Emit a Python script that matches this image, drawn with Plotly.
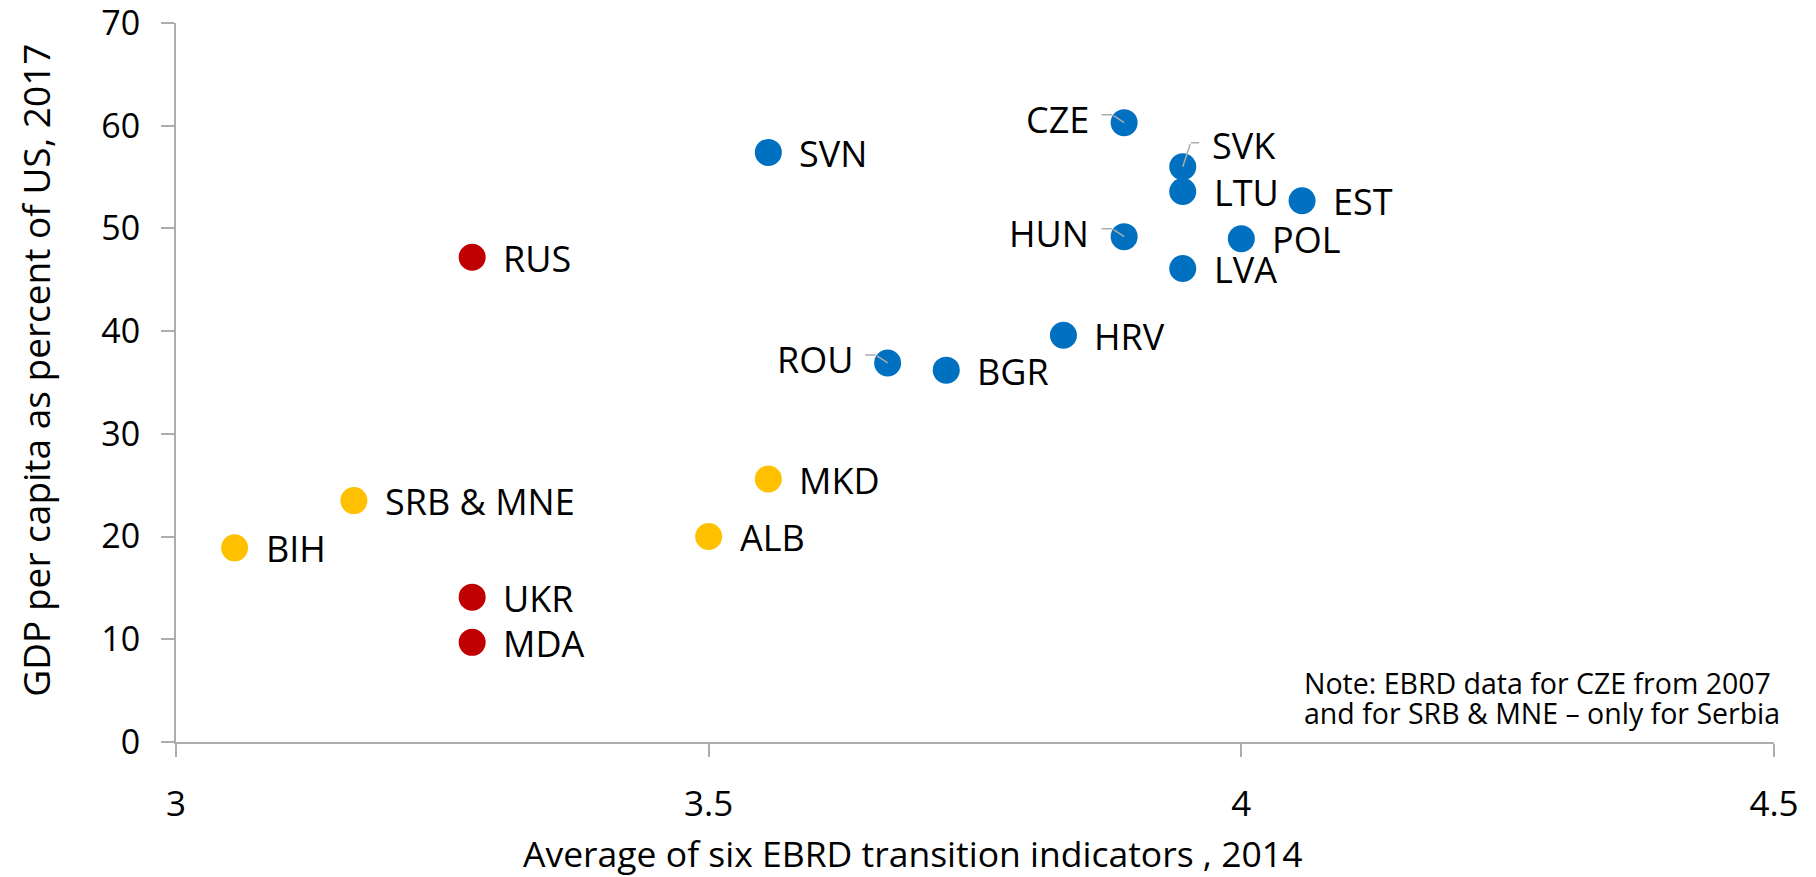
import plotly.graph_objects as go

# ---- data ----
countries = ["CZE", "SVK", "LTU", "EST", "HUN", "POL", "LVA", "HRV", "ROU", "BGR", "SVN",
             "RUS", "UKR", "MDA",
             "MKD", "ALB", "SRB & MNE", "BIH"]
ebrd_2014 = [3.89, 3.945, 3.945, 4.057, 3.89, 4.0, 3.945, 3.833, 3.668, 3.723, 3.556,
             3.278, 3.278, 3.278,
             3.556, 3.5, 3.167, 3.055]
gdp_pct_us = [60.3, 56.0, 53.6, 52.7, 49.2, 49.0, 46.1, 39.6, 36.9, 36.2, 57.4,
              47.2, 14.1, 9.7,
              25.6, 20.0, 23.5, 18.9]
groups = ["EU", "EU", "EU", "EU", "EU", "EU", "EU", "EU", "EU", "EU", "EU",
          "CIS", "CIS", "CIS",
          "WB", "WB", "WB", "WB"]
group_colors = {"EU": "#0070C0", "CIS": "#C00000", "WB": "#FFC000"}

x_ticks = [3, 3.5, 4, 4.5]
x_tick_labels = ["3", "3.5", "4", "4.5"]
y_ticks = [0, 10, 20, 30, 40, 50, 60, 70]
y_tick_labels = ["0", "10", "20", "30", "40", "50", "60", "70"]

# label placement: side of the point (right / left / above-right with leader)
left_labels = {"CZE", "HUN", "ROU"}
above_labels = {"SVK"}

FONT = "Open Sans"
GRAY = "#ADADAD"
LABEL_SIZE = 36

fig = go.Figure()
for g in ["EU", "CIS", "WB"]:
    xs = [x for x, gg in zip(ebrd_2014, groups) if gg == g]
    ys = [y for y, gg in zip(gdp_pct_us, groups) if gg == g]
    fig.add_trace(go.Scatter(x=xs, y=ys, mode="markers",
                             marker=dict(size=27, color=group_colors[g], line=dict(width=0)),
                             showlegend=False, hoverinfo="skip"))

ann = []
for c, x, y in zip(countries, ebrd_2014, gdp_pct_us):
    if c in left_labels:
        ann.append(dict(x=x, y=y, xref="x", yref="y", text=c, showarrow=False,
                        xanchor="right", yanchor="middle", xshift=-33, yshift=3,
                        font=dict(family=FONT, size=LABEL_SIZE, color="black")))
        # leader line: short horizontal then diagonal to centre
        ann.append(dict(x=x, y=y, xref="x", yref="y", text="", showarrow=True,
                        arrowhead=0, arrowwidth=1.5, arrowcolor=GRAY,
                        ax=-12, ay=0, xshift=-12, yshift=8))
        ann.append(dict(x=x, y=y, xref="x", yref="y", text="", showarrow=True,
                        arrowhead=0, arrowwidth=1.5, arrowcolor=GRAY,
                        ax=-12, ay=-8))
    elif c in above_labels:
        ann.append(dict(x=x, y=y, xref="x", yref="y", text=c, showarrow=False,
                        xanchor="left", yanchor="middle", xshift=27, yshift=21,
                        font=dict(family=FONT, size=LABEL_SIZE, color="black")))
        ann.append(dict(x=x, y=y, xref="x", yref="y", text="", showarrow=True,
                        arrowhead=0, arrowwidth=1.5, arrowcolor=GRAY,
                        ax=8, ay=-24))
        ann.append(dict(x=x, y=y, xref="x", yref="y", text="", showarrow=True,
                        arrowhead=0, arrowwidth=1.5, arrowcolor=GRAY,
                        ax=10, ay=0, xshift=8, yshift=24))
    else:
        ann.append(dict(x=x, y=y, xref="x", yref="y", text=c, showarrow=False,
                        xanchor="left", yanchor="middle", xshift=29, yshift=-1,
                        font=dict(family=FONT, size=LABEL_SIZE, color="black")))

# axis titles
ann.append(dict(x=0.4606, y=-0.154, xref="paper", yref="paper",
                text="Average of six EBRD transition indicators , 2014", showarrow=False,
                xanchor="center", yanchor="middle",
                font=dict(family=FONT, size=35.5, color="black")))
ann.append(dict(x=-0.088, y=0.517, xref="paper", yref="paper",
                text="GDP per capita as percent of US, 2017", showarrow=False,
                textangle=-90, xanchor="center", yanchor="middle",
                font=dict(family=FONT, size=37, color="black")))
# note
ann.append(dict(x=0.7046, y=(742 - 683) / 719, xref="paper", yref="paper",
                text="Note: EBRD data for CZE from 2007", showarrow=False,
                xanchor="left", yanchor="middle",
                font=dict(family=FONT, size=28.5, color="black")))
ann.append(dict(x=0.7046, y=(742 - 713) / 719, xref="paper", yref="paper",
                text="and for SRB & MNE \u2013 only for Serbia", showarrow=False,
                xanchor="left", yanchor="middle",
                font=dict(family=FONT, size=28.5, color="black")))

fig.update_layout(
    width=1816, height=877,
    margin=dict(l=176, r=42, t=23, b=135),
    plot_bgcolor="white", paper_bgcolor="white",
    annotations=ann,
    font=dict(family=FONT, color="black"),
)
fig.update_xaxes(range=[3, 4.5], tickvals=x_ticks, ticktext=x_tick_labels,
                 automargin=False,
                 showline=True, linecolor=GRAY, linewidth=2,
                 ticks="outside", ticklen=13, tickwidth=2, tickcolor=GRAY,
                 showgrid=False, zeroline=False, ticklabeloverflow="allow",
                 tickfont=dict(family=FONT, size=35, color="black"),
                 ticklabelstandoff=17)
fig.update_yaxes(range=[0, 70], tickvals=y_ticks, ticktext=y_tick_labels,
                 automargin=False,
                 showline=True, linecolor=GRAY, linewidth=2,
                 ticks="outside", ticklen=13, tickwidth=2, tickcolor=GRAY,
                 showgrid=False, zeroline=False, ticklabeloverflow="allow",
                 tickfont=dict(family=FONT, size=34, color="black"),
                 ticklabelstandoff=14)

fig.write_html("out.html", config={"displayModeBar": False},
               post_script="document.body.style.margin='0';document.body.style.overflow='hidden';")
